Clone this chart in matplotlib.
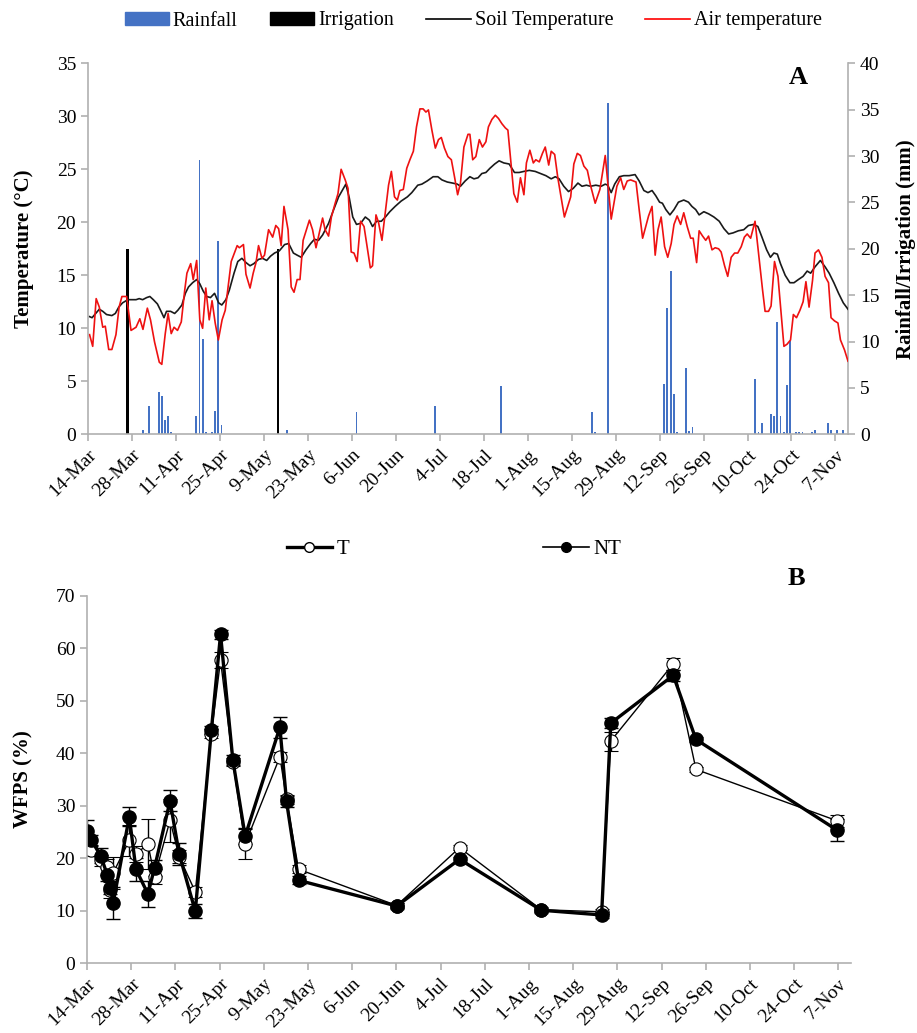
import matplotlib
matplotlib.use("Agg")
import matplotlib.pyplot as plt
import numpy as np
from matplotlib.patches import Patch
from matplotlib.lines import Line2D

plt.rcParams['font.family'] = ['Liberation Serif', 'DejaVu Serif']

# x = days after 14-Mar
tick_days = list(range(0, 239, 14))
tick_labels = ["14-Mar", "28-Mar", "11-Apr", "25-Apr", "9-May", "23-May", "6-Jun",
               "20-Jun", "4-Jul", "18-Jul", "1-Aug", "15-Aug", "29-Aug", "12-Sep",
               "26-Sep", "10-Oct", "24-Oct", "7-Nov"]

# ---- panel A data ----
air_day = [0, 1, 2.1, 3.1, 4.2, 5, 6.1, 7.1, 8.4, 9.4, 10.3, 11.8, 13.2, 14.8, 16, 17, 18.4, 19.4,
           20.7, 22.2, 23, 24.1, 25, 26, 26.9, 28, 29.2, 30.3, 31, 32.2, 33, 34.1, 35.1, 36, 37,
           38.1, 39, 40, 41, 42.2, 43.2, 45.1, 47, 47.7, 49, 49.8, 51.1, 52.1, 53, 53.8, 54.9,
           55.7, 57, 58.3, 59.3, 60.2, 61.0, 61.9, 63.2, 64.2, 65.1, 66.1, 67, 68.0, 70, 71, 72.1,
           74.2, 75, 76.1, 77, 78.2, 79.1, 80.1, 81.4, 82.3, 83.3, 84.2, 85.2, 86.3, 87.4, 89.4,
           90.1, 91.2, 92, 93.1, 95.2, 96.1, 97.1, 98, 98.8, 99.9, 101, 102, 103.1, 104.1, 105.2,
           106.2, 107.1, 107.9, 109, 110.1, 111.1, 112, 113, 114.1, 115.2, 116.2, 117.2, 118.1,
           119.2, 120.5, 121.1, 122, 123, 124.1, 125.1, 126.2, 127, 128.1, 129.2, 130.2, 131.3,
           132.4, 133.2, 134.3, 135.1, 136.2, 137.2, 138.3, 139.1, 140.2, 141.3, 142.1, 143.2,
           144.2, 145.1, 146.2, 147, 148.1, 149.1, 151.2, 153.2, 154.2, 155.3, 156.3, 157.4,
           158.5, 159.5, 161, 162.5, 164.2, 166.1, 167.9, 169.1, 170.1, 171.2, 172.3, 174, 175,
           176.1, 177.1, 178, 179.1, 180.1, 181, 182, 183.1, 184.1, 185.2, 186.1, 187.1, 188.2,
           189.2, 190.3, 191.4, 192.2, 193.3, 194.1, 195.2, 196.2, 197.1, 198.2, 199.2, 200.3,
           201.1, 202.2, 203.2, 204.3, 205.4, 206.4, 207.5, 208.5, 209.4, 210.5, 211.9, 214.3,
           215.1, 216.2, 217, 218.1, 219.2, 221.1, 222.1, 223.2, 224.1, 225.1, 226.2, 227.2,
           228.1, 229.1, 230.2, 231.0, 232.1, 233.2, 234.2, 235.3, 236.1, 237.2, 238.3, 239.1,
           240.4, 241.5]
air_temp = [9.4, 8.3, 12.8, 12.0, 10.1, 10.2, 8.0, 8.0, 9.4, 12.0, 13.0, 13.0, 9.8, 10.1, 10.9,
            9.9, 11.9, 10.8, 8.7, 6.8, 6.6, 9.5, 11.4, 9.5, 10.1, 9.8, 10.6, 13.6, 15.2, 16.1,
            14.6, 16.4, 10.8, 10.0, 13.8, 10.8, 12.6, 10.5, 8.9, 10.8, 11.7, 16.3, 17.8, 17.6,
            17.9, 15.1, 13.8, 15.2, 16.2, 17.8, 16.6, 16.9, 19.3, 18.6, 19.7, 19.4, 17.8, 21.5,
            19.3, 13.9, 13.4, 14.6, 14.6, 18.3, 20.2, 19.3, 17.6, 20.4, 19.3, 18.7, 20.5, 21.8,
            22.7, 25.0, 24.0, 23.2, 17.2, 17.1, 16.3, 20.1, 19.6, 15.7, 15.9, 20.7, 20.0, 18.3,
            23.5, 24.8, 22.4, 22.1, 23.0, 23.1, 25.1, 25.9, 26.7, 29.0, 30.7, 30.7, 30.4, 30.6,
            28.7, 27.0, 27.8, 28.0, 27.0, 26.2, 25.9, 24.3, 22.6, 23.7, 27.1, 28.3, 28.3, 25.9,
            26.2, 27.8, 27.1, 27.6, 29.0, 29.7, 30.1, 29.8, 29.3, 28.9, 28.7, 25.2, 22.7, 21.9,
            24.2, 22.6, 25.6, 26.8, 25.6, 25.9, 25.7, 26.5, 27.1, 25.4, 26.7, 26.4, 24.2, 20.5,
            22.4, 25.5, 26.5, 26.3, 25.3, 24.9, 23.5, 21.8, 23.1, 26.3, 20.3, 23.4, 24.2, 23.1,
            23.9, 24.0, 23.8, 21.2, 18.5, 19.6, 20.6, 21.5, 16.9, 19.3, 20.5, 17.7, 16.7, 18.0,
            19.8, 20.6, 19.8, 20.9, 19.6, 18.5, 18.5, 16.2, 19.2, 18.7, 18.3, 18.7, 17.4, 17.6,
            17.5, 17.2, 15.9, 14.9, 16.7, 17.1, 17.1, 17.7, 18.6, 18.9, 18.5, 20.1, 13.6, 11.6,
            11.6, 12.1, 16.3, 14.9, 8.3, 8.5, 8.9, 11.3, 11.0, 11.7, 12.5, 14.4, 12.0, 14.5, 17.1,
            17.4, 16.7, 14.9, 14.3, 11.0, 10.7, 10.5, 8.9, 7.95, 6.9]

soil_day = [0, 0.8, 3.1, 4.2, 5.4, 7.1, 8.2, 9.3, 10.5, 12.2, 13.5, 14.8, 15.8, 16.9, 18.2, 19.2,
            20.3, 21.6, 22.6, 23.7, 24.5, 25.8, 27.1, 28.1, 29.4, 30.5, 31.5, 32.8, 34.1, 35.1,
            36.2, 37.3, 38.5, 39.8, 41.1, 42.1, 43.4, 44.5, 46.0, 47.2, 48.5, 49.8, 51.1, 52.3,
            53.8, 55.1, 56.4, 57.6, 58.9, 60.4, 62.1, 63.4, 64.9, 66.1, 67.4, 68.9, 70.4, 71.6,
            72.9, 74.2, 76.1, 77.6, 79.3, 81.6, 82.7, 83.8, 85.0, 86.3, 87.8, 89.1, 90.1, 91.4,
            92.9, 94.2, 95.6, 97.3, 99.2, 101.2, 102.6, 104.5, 105.8, 107.5, 109.4, 110.9, 112.2,
            113.9, 115.6, 117.1, 118.1, 119.6, 121.1, 122.4, 123.7, 124.9, 126.2, 127.5, 129,
            130.4, 131.9, 133.6, 135.3, 136.8, 138.3, 140, 141.9, 143.6, 145.3, 147, 148.3,
            149.5, 151, 152.5, 154, 155.5, 156.8, 158.2, 159.5, 161.2, 162.9, 164.2, 165.0,
            166.1, 167.2, 168.7, 170.1, 171.8, 173.7, 175, 176.5, 177.8, 179.1, 180.3, 181.5,
            182.4, 183.5, 184.8, 186.1, 187.5, 189.2, 190.7, 191.8, 193, 194.1, 195.6, 197.1,
            198.8, 200.5, 202, 203.5, 204.9, 206.6, 208.3, 209.8, 211.5, 212.8, 214.1, 215.6,
            216.8, 217.9, 219, 220, 221.5, 223, 224.3, 225.7, 227.2, 228.5, 229.6, 231, 232.7,
            234.2, 235.5, 237, 238.5, 240, 241.5]
soil_temp = [11.1, 11.0, 11.8, 11.6, 11.3, 11.2, 11.4, 12.0, 12.4, 12.7, 12.7, 12.7, 12.8, 12.7,
             12.9, 13.0, 12.7, 12.3, 11.7, 11.0, 11.6, 11.6, 11.4, 11.7, 12.2, 13.3, 13.9, 14.3,
             14.6, 14.2, 13.5, 13.0, 12.9, 13.3, 12.4, 12.2, 12.7, 13.6, 15.2, 16.3, 16.6, 16.2,
             15.9, 16.1, 16.5, 16.6, 16.4, 16.8, 17.1, 17.3, 17.9, 18.0, 17.1, 16.9, 16.7, 17.4,
             18.0, 18.4, 18.3, 18.8, 19.9, 21.1, 22.4, 23.6, 22.3, 20.5, 19.8, 19.9, 20.5, 20.2,
             19.6, 20.1, 20.1, 20.5, 21.0, 21.5, 22.0, 22.4, 22.8, 23.5, 23.6, 23.9, 24.3, 24.3,
             24.0, 23.8, 23.7, 23.6, 23.4, 23.9, 24.3, 24.1, 24.2, 24.6, 24.7, 25.1, 25.5, 25.8,
             25.6, 25.5, 24.7, 24.7, 24.8, 24.9, 24.8, 24.6, 24.4, 24.1, 24.3, 24.1, 23.4, 22.9,
             23.2, 23.7, 23.4, 23.5, 23.4, 23.5, 23.4, 23.6, 23.5, 22.8, 23.6, 24.3, 24.4, 24.4,
             24.5, 23.9, 23.0, 22.8, 23.0, 22.5, 21.9, 21.8, 21.2, 20.7, 21.2, 21.9, 22.1, 21.9,
             21.5, 21.2, 20.7, 21.0, 20.8, 20.5, 20.1, 19.4, 18.9, 19.0, 19.2, 19.3, 19.7, 19.8,
             19.6, 18.6, 17.4, 16.7, 17.1, 17.0, 16.1, 15.0, 14.3, 14.3, 14.6, 14.9, 15.4, 15.2,
             15.8, 16.4, 15.8, 15.2, 14.3, 13.3, 12.4, 11.8]

rain_day = [17, 18, 19, 22, 23, 24, 25, 26, 34, 35, 36, 37, 39, 40, 41, 42, 63, 85, 110, 131,
            160, 161, 165, 183, 184, 185, 186, 187, 190, 191, 192, 212, 213, 214, 217, 218, 219,
            220, 221, 222, 223, 225, 226, 227, 230, 231, 235, 236, 238, 240]
rain_mm = [0.5, 0.1, 3.0, 4.6, 4.1, 1.5, 2.0, 0.2, 2.0, 29.6, 10.3, 0.2, 0.2, 2.5, 20.8, 1.0,
           0.5, 2.4, 3.0, 5.2, 2.4, 0.2, 35.7, 5.4, 13.6, 17.6, 4.3, 0.2, 7.1, 0.4, 0.75, 6.0,
           0.2, 1.2, 2.2, 2.0, 12.1, 2.0, 0.2, 5.3, 10.1, 0.2, 0.2, 0.2, 0.2, 0.5, 1.2, 0.5,
           0.5, 0.5]
irr_day = [12, 60]
irr_mm = [20, 20]

# ---- panel B data ----
wfps_day = [0, 1.4, 4.3, 6.4, 7.4, 8.3, 13.4, 15.5, 19.3, 21.4, 26.3, 29.2, 34.3, 39.4, 42.3,
            46.2, 50.1, 61.1, 63.2, 67.0, 98.1, 118.0, 143.9, 163.0, 165.9, 185.7, 192.9, 237.7]
t_wfps = [23.1, 21.5, 19.6, 18.3, 13.9, 17.2, 23.4, 20.8, 22.7, 16.5, 27.2, 20.3, 13.6, 43.7,
          57.7, 38.3, 22.7, 39.3, 31.2, 17.9, 11.0, 22.0, 10.2, 9.8, 42.3, 57.0, 36.9, 27.1]
t_err = [1.2, 1.0, 1.0, 1.5, 1.5, 3.0, 2.9, 1.5, 4.7, 1.5, 4.1, 1.2, 1.0, 0.8, 1.5, 0.8, 2.9,
         1.0, 0.8, 0.8, 0.5, 0.5, 0.5, 0.5, 1.8, 1.1, 0.5, 1.1]
nt_wfps = [25.2, 23.4, 20.5, 16.9, 14.4, 11.5, 27.9, 17.9, 13.2, 18.2, 30.9, 20.8, 9.9, 44.4,
           62.6, 38.7, 24.2, 44.9, 30.8, 15.8, 10.9, 19.8, 10.1, 9.2, 45.7, 54.8, 42.6, 25.3]
nt_err = [2.0, 1.0, 1.5, 1.2, 1.2, 3.0, 1.8, 2.2, 2.4, 1.5, 2.0, 2.1, 1.3, 0.8, 0.8, 1.0, 1.5,
          2.0, 1.0, 0.8, 0.5, 0.5, 0.5, 0.5, 1.0, 1.0, 0.5, 2.1]

W, H = 917, 1033
fig = plt.figure(figsize=(W / 100, H / 100), dpi=100)
grey = "#b0b0b0"
fs = 14


def style(ax):
    for s in ["top", "right"]:
        ax.spines[s].set_visible(False)
    for s in ["left", "bottom"]:
        ax.spines[s].set_color(grey)
        ax.spines[s].set_linewidth(1.2)
    ax.tick_params(direction="out", color=grey, width=1.2, length=5, labelsize=fs)
    ax.set_xlim(0, 242)
    ax.set_xticks(tick_days)
    ax.set_xticklabels(tick_labels, rotation=45, ha="right", rotation_mode="anchor")


# ---- panel A ----
axA = fig.add_axes([88 / W, 1 - 434.3 / H, (848 - 88) / W, (434.3 - 63.3) / H])
axR = axA.twinx()
axA.set_zorder(axR.get_zorder() + 1)
axA.patch.set_visible(False)

style(axA)
axA.spines["right"].set_visible(False)
axR.spines["right"].set_color(grey)
axR.spines["right"].set_linewidth(1.2)
for s in ["top", "left", "bottom"]:
    axR.spines[s].set_visible(False)
axR.tick_params(direction="out", color=grey, width=1.2, length=5, labelsize=fs)

axR.bar(np.array(rain_day) + 0.5, rain_mm, width=0.6, color="#4472C4")
axR.bar(np.array(irr_day) + 0.5, irr_mm, width=0.9, color="black")
axR.set_ylim(0, 40)
axR.set_yticks(range(0, 41, 5))
axR.set_xlim(0, 242)

axA.plot(np.array(soil_day) + 0.5, soil_temp, color="#1a1a1a", lw=1.2)
axA.plot(np.array(air_day) + 0.5, air_temp, color="#ee1111", lw=1.2)
axA.set_ylim(0, 35)
axA.set_yticks(range(0, 36, 5))
axA.set_ylabel("Temperature (°C)", fontsize=15, fontweight="bold", labelpad=16)
axR.set_ylabel("Rainfall/Irrigation (mm)", fontsize=15, fontweight="bold", labelpad=12)
axA.text(0.934, 0.963, "A", transform=axA.transAxes, fontsize=19, fontweight="bold",
         ha="center", va="center")

handles = [Patch(color="#4472C4", label="Rainfall"),
           Patch(color="black", label="Irrigation"),
           Line2D([], [], color="black", lw=1.2, label="Soil Temperature"),
           Line2D([], [], color="red", lw=1.2, label="Air temperature")]
fig.legend(handles=handles, loc="center", bbox_to_anchor=(0.516, 1 - 21 / H), ncol=4,
           frameon=False, fontsize=14.5, handlelength=2.2, handleheight=0.6,
           columnspacing=1.6, handletextpad=0.2)

# ---- panel B ----
axB = fig.add_axes([87 / W, 1 - 963.3 / H, (851 - 87) / W, (963.3 - 595.5) / H])
style(axB)
axB.set_ylim(0, 70)
axB.set_yticks(range(0, 71, 10))
axB.errorbar(wfps_day, t_wfps, yerr=t_err, color="black", lw=1.0, marker="o", ms=9.5,
             mfc="white", mec="black", mew=0.8, capsize=5, elinewidth=1.0, ecolor="black",
             label="T")
axB.errorbar(wfps_day, nt_wfps, yerr=nt_err, color="black", lw=2.4, marker="o", ms=9.5,
             mfc="black", mec="black", capsize=5, elinewidth=1.0, ecolor="black", label="NT")
axB.set_ylabel("WFPS (%)", fontsize=15, fontweight="bold", labelpad=16)
axB.text(0.929, 1.045, "B", transform=axB.transAxes, fontsize=19, fontweight="bold",
         ha="center", va="center")

hT = Line2D([], [], color="black", lw=2.4, marker="o", ms=7, mfc="white", mec="black")
hNT = Line2D([], [], color="black", lw=1.2, marker="o", ms=7, mfc="black", mec="black")
axB.legend([hT, hNT], ["T", "NT"], loc="center", bbox_to_anchor=(0.48, 1.125), ncol=2,
           frameon=False, fontsize=15, handlelength=2.2, columnspacing=9.3, handletextpad=0.2)

fig.savefig("out.png", dpi=100)
